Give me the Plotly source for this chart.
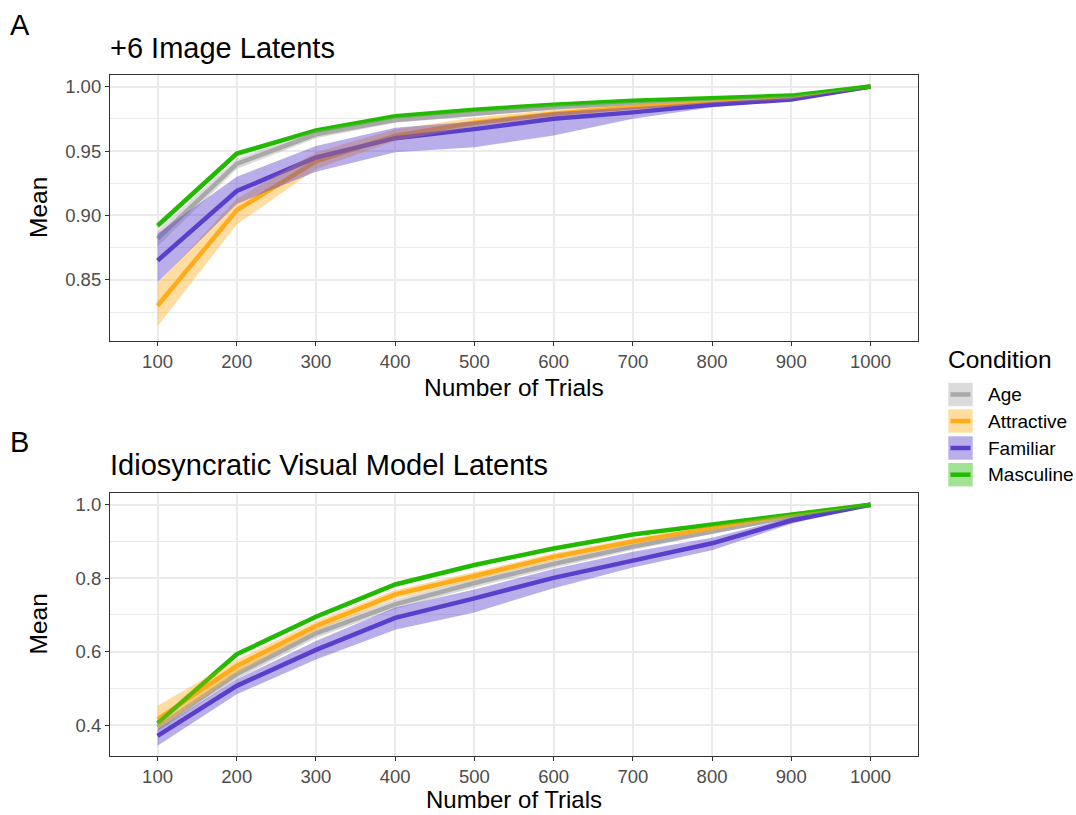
import plotly.graph_objects as go
from plotly.subplots import make_subplots

# ---------------- data ----------------
trials = [100, 200, 300, 400, 500, 600, 700, 800, 900, 1000]
conditions = ["Age", "Attractive", "Familiar", "Masculine"]

# Panel A: +6 Image Latents
a_age_mean = [0.882, 0.940, 0.963, 0.974, 0.979, 0.984, 0.987, 0.989, 0.992, 1.000]
a_age_lo   = [0.876, 0.936, 0.960, 0.972, 0.977, 0.982, 0.986, 0.988, 0.991, 1.000]
a_age_hi   = [0.888, 0.944, 0.966, 0.976, 0.981, 0.986, 0.988, 0.990, 0.993, 1.000]
a_att_mean = [0.830, 0.904, 0.942, 0.962, 0.972, 0.979, 0.984, 0.988, 0.991, 1.000]
a_att_lo   = [0.814, 0.893, 0.936, 0.958, 0.969, 0.977, 0.983, 0.987, 0.990, 1.000]
a_att_hi   = [0.847, 0.913, 0.949, 0.967, 0.976, 0.982, 0.986, 0.989, 0.992, 1.000]
a_fam_mean = [0.865, 0.919, 0.945, 0.960, 0.967, 0.975, 0.980, 0.986, 0.990, 1.000]
a_fam_lo   = [0.848, 0.909, 0.934, 0.949, 0.953, 0.962, 0.975, 0.984, 0.989, 1.000]
a_fam_hi   = [0.886, 0.930, 0.954, 0.968, 0.973, 0.980, 0.984, 0.988, 0.991, 1.000]
a_mas_mean = [0.892, 0.948, 0.966, 0.977, 0.982, 0.986, 0.989, 0.991, 0.993, 1.000]
a_mas_lo   = [0.890, 0.946, 0.965, 0.976, 0.981, 0.985, 0.988, 0.990, 0.992, 1.000]
a_mas_hi   = [0.894, 0.950, 0.967, 0.978, 0.983, 0.987, 0.990, 0.992, 0.994, 1.000]

# Panel B: Idiosyncratic Visual Model Latents
b_age_mean = [0.394, 0.539, 0.650, 0.729, 0.787, 0.839, 0.886, 0.928, 0.968, 1.000]
b_age_lo   = [0.382, 0.525, 0.637, 0.716, 0.775, 0.828, 0.877, 0.921, 0.964, 1.000]
b_age_hi   = [0.406, 0.553, 0.663, 0.742, 0.799, 0.850, 0.895, 0.935, 0.972, 1.000]
b_att_mean = [0.416, 0.561, 0.670, 0.756, 0.806, 0.858, 0.900, 0.937, 0.972, 1.000]
b_att_lo   = [0.389, 0.540, 0.657, 0.744, 0.795, 0.848, 0.892, 0.931, 0.969, 1.000]
b_att_hi   = [0.453, 0.578, 0.683, 0.768, 0.817, 0.868, 0.908, 0.943, 0.975, 1.000]
b_fam_mean = [0.371, 0.507, 0.605, 0.692, 0.745, 0.801, 0.848, 0.895, 0.957, 1.000]
b_fam_lo   = [0.344, 0.484, 0.579, 0.660, 0.707, 0.773, 0.829, 0.876, 0.948, 1.000]
b_fam_hi   = [0.389, 0.525, 0.629, 0.720, 0.769, 0.825, 0.872, 0.910, 0.965, 1.000]
b_mas_mean = [0.405, 0.593, 0.695, 0.783, 0.836, 0.881, 0.919, 0.947, 0.975, 1.000]
b_mas_lo   = [0.399, 0.587, 0.689, 0.777, 0.831, 0.876, 0.915, 0.944, 0.973, 1.000]
b_mas_hi   = [0.411, 0.599, 0.701, 0.789, 0.841, 0.886, 0.923, 0.950, 0.977, 1.000]

a_yticks = [0.85, 0.90, 0.95, 1.00]
a_yticktext = ["0.85", "0.90", "0.95", "1.00"]
a_yminor = [0.825, 0.875, 0.925, 0.975]
b_yticks = [0.4, 0.6, 0.8, 1.0]
b_yticktext = ["0.4", "0.6", "0.8", "1.0"]
b_yminor = [0.5, 0.7, 0.9]

panel_a_title = "+6 Image Latents"
panel_b_title = "Idiosyncratic Visual Model Latents"
x_title = "Number of Trials"
y_title = "Mean"
legend_title = "Condition"

# ---------------- styling ----------------
line_colors = {"Age": "#A9A9A9", "Attractive": "#FFAC1C", "Familiar": "#5B3FCC", "Masculine": "#22BB00"}
band_alpha = 0.42
FONT = "Liberation Sans, Arial, Helvetica, sans-serif"

def rgba(hexc, a):
    h = hexc.lstrip("#")
    r, g, b = int(h[0:2], 16), int(h[2:4], 16), int(h[4:6], 16)
    return f"rgba({r},{g},{b},{a})"

W, H = 1076, 815
L, R, T, B = 110, 918, 75, 758
def px2x(px):
    return (px - L) / (R - L)
def py2y(py):
    return (B - py) / (B - T)

top_dom = [py2y(341), 1.0]
bot_dom = [py2y(756), py2y(493)]

fig = make_subplots(rows=2, cols=1)

panels = [
    (1, {"Age": (a_age_mean, a_age_lo, a_age_hi), "Attractive": (a_att_mean, a_att_lo, a_att_hi),
         "Familiar": (a_fam_mean, a_fam_lo, a_fam_hi), "Masculine": (a_mas_mean, a_mas_lo, a_mas_hi)}),
    (2, {"Age": (b_age_mean, b_age_lo, b_age_hi), "Attractive": (b_att_mean, b_att_lo, b_att_hi),
         "Familiar": (b_fam_mean, b_fam_lo, b_fam_hi), "Masculine": (b_mas_mean, b_mas_lo, b_mas_hi)}),
]

for row, data in panels:
    for c in conditions:
        m, lo, hi = data[c]
        fig.add_trace(go.Scatter(x=trials, y=m, mode="lines", name=c, showlegend=False,
                                 line=dict(color=line_colors[c], width=4.5), hoverinfo="skip"),
                      row=row, col=1)
    for c in conditions:
        m, lo, hi = data[c]
        fig.add_trace(go.Scatter(x=trials + trials[::-1], y=hi + lo[::-1], mode="lines",
                                 fill="toself", fillcolor=rgba(line_colors[c], band_alpha),
                                 line=dict(width=0, color="rgba(0,0,0,0)"), showlegend=False,
                                 hoverinfo="skip"),
                      row=row, col=1)

axis_common = dict(showline=True, mirror=True, linecolor="#333333", linewidth=1.2,
                   ticks="outside", ticklen=4, tickwidth=1.2, tickcolor="#333333",
                   showgrid=True, gridcolor="#EBEBEB", gridwidth=1.6, zeroline=False,
                   tickfont=dict(family=FONT, size=18.5, color="#4D4D4D"))

for ax in ["xaxis", "xaxis2"]:
    fig.layout[ax].update(range=[40, 1060], tickmode="array", tickvals=trials,
                          ticktext=[str(t) for t in trials], domain=[0, 1], **axis_common)

fig.layout.yaxis.update(range=[0.8026, 1.009], tickmode="array", tickvals=a_yticks,
                        ticktext=a_yticktext, domain=top_dom,
                        minor=dict(tickmode="array", tickvals=a_yminor, showgrid=True,
                                   gridcolor="#EBEBEB", gridwidth=1.0, ticks=""),
                        **axis_common)
fig.layout.yaxis2.update(range=[0.316, 1.032], tickmode="array", tickvals=b_yticks,
                         ticktext=b_yticktext, domain=bot_dom,
                         minor=dict(tickmode="array", tickvals=b_yminor, showgrid=True,
                                    gridcolor="#EBEBEB", gridwidth=1.0, ticks=""),
                         **axis_common)

annotations = []
def add_text(text, px, py, size, xanchor="left", yanchor="middle", color="black", angle=0):
    annotations.append(dict(text=text, x=px2x(px), y=py2y(py), xref="paper", yref="paper",
                            xanchor=xanchor, yanchor=yanchor, showarrow=False, textangle=angle,
                            font=dict(family=FONT, size=size, color=color)))

# tags and titles
add_text("A", 8, 25, 29)
add_text(panel_a_title, 108, 48, 29)
add_text("B", 8, 442, 29)
add_text(panel_b_title, 108, 465, 29)
# axis titles
add_text(x_title, (L + R) / 2, 387, 24.5, xanchor="center")
add_text(x_title, (L + R) / 2, 814.5, 24, xanchor="center", yanchor="bottom")
add_text(y_title, 38, (T + 341) / 2, 24.5, xanchor="center", angle=-90)
add_text(y_title, 38, (493 + 756) / 2, 24.5, xanchor="center", angle=-90)
# legend
add_text(legend_title, 946, 359, 24.5)
shapes = []
row_centers = [394.5, 421.0, 448.0, 474.7]
for c, cy in zip(conditions, row_centers):
    shapes.append(dict(type="rect", xref="paper", yref="paper",
                       x0=px2x(948.3), x1=px2x(972.7), y0=py2y(cy + 11.7), y1=py2y(cy - 11.7),
                       fillcolor=rgba(line_colors[c], band_alpha), line=dict(width=0), layer="above"))
    shapes.append(dict(type="line", xref="paper", yref="paper",
                       x0=px2x(950.5), x1=px2x(970.5), y0=py2y(cy), y1=py2y(cy),
                       line=dict(color=line_colors[c], width=4.5), layer="above"))
    add_text(c, 986, cy, 19)

fig.update_layout(width=W, height=H, margin=dict(l=L, r=W - R, t=T, b=H - B),
                  paper_bgcolor="white", plot_bgcolor="white", showlegend=False,
                  annotations=annotations, shapes=shapes,
                  font=dict(family=FONT, color="black"))

fig.write_html("out.html", config={"displayModeBar": False},
               post_script="document.body.style.margin='0px';document.body.style.padding='0px';"
                           "document.documentElement.style.overflow='hidden';")
